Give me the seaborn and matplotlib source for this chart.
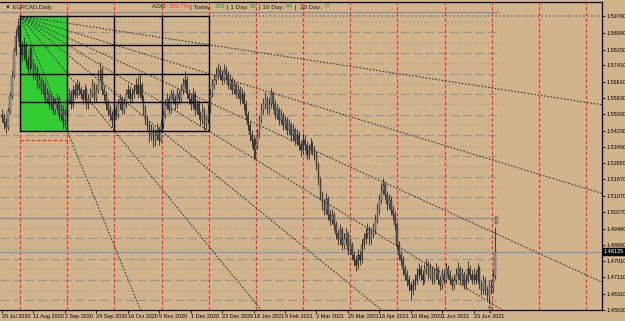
import matplotlib
matplotlib.use("Agg")
import matplotlib.pyplot as plt
import seaborn as sns
import numpy as np
import pandas as pd
from matplotlib.patches import Rectangle

symbol_title = "\u25bc EURCAD,Daily"

opens = [
1.5500,1.5490,1.5460,1.5440,1.5520,1.5590,1.5690,1.5810,1.5880,1.5930,
1.5830,1.5790,1.5840,1.5760,1.5720,1.5815,1.5745,1.5695,1.5720,1.5645,
1.5670,1.5620,1.5645,1.5575,1.5600,1.5550,1.5575,1.5525,1.5550,1.5575,
1.5500,1.5525,1.5475,1.5500,1.5570,1.5600,1.5550,1.5620,1.5595,1.5645,
1.5620,1.5600,1.5575,1.5620,1.5550,1.5575,1.5600,1.5645,1.5575,1.5620,
1.5690,1.5715,1.5620,1.5595,1.5550,1.5525,1.5500,1.5475,1.5525,1.5500,
1.5550,1.5575,1.5525,1.5550,1.5600,1.5620,1.5575,1.5600,1.5620,1.5645,
1.5600,1.5645,1.5575,1.5525,1.5475,1.5450,1.5400,1.5425,1.5380,1.5400,
1.5425,1.5380,1.5450,1.5500,1.5550,1.5575,1.5525,1.5600,1.5575,1.5550,
1.5600,1.5575,1.5620,1.5645,1.5670,1.5600,1.5575,1.5550,1.5600,1.5525,
1.5550,1.5500,1.5475,1.5525,1.5450,1.5475,1.5525,1.5600,1.5645,1.5670,
1.5695,1.5715,1.5695,1.5670,1.5715,1.5695,1.5645,1.5670,1.5620,1.5645,
1.5600,1.5620,1.5575,1.5600,1.5550,1.5500,1.5450,1.5400,1.5380,1.5330,
1.5355,1.5400,1.5475,1.5525,1.5550,1.5575,1.5525,1.5550,1.5600,1.5550,
1.5500,1.5525,1.5475,1.5500,1.5450,1.5475,1.5425,1.5450,1.5400,1.5425,
1.5380,1.5400,1.5355,1.5330,1.5380,1.5355,1.5305,1.5330,1.5355,1.5330,
1.5305,1.5255,1.5185,1.5110,1.5065,1.5040,1.5090,1.5015,1.4990,1.5015,
1.4965,1.4920,1.4895,1.4940,1.4870,1.4895,1.4920,1.4845,1.4870,1.4820,
1.4795,1.4770,1.4820,1.4795,1.4870,1.4895,1.4920,1.4940,1.4895,1.4920,
1.4940,1.4990,1.5040,1.5085,1.5135,1.5160,1.5110,1.5065,1.5085,1.5040,
1.5015,1.4965,1.4870,1.4820,1.4795,1.4750,1.4725,1.4700,1.4675,1.4650,
1.4675,1.4700,1.4725,1.4750,1.4725,1.4700,1.4750,1.4770,1.4725,1.4750,
1.4700,1.4725,1.4750,1.4700,1.4675,1.4725,1.4700,1.4750,1.4725,1.4700,
1.4675,1.4700,1.4725,1.4750,1.4700,1.4725,1.4675,1.4700,1.4750,1.4725,
1.4700,1.4725,1.4700,1.4750,1.4675,1.4650,1.4700,1.4650,1.4625,1.4675,
1.4660,1.4720]

closes = [
1.5490,1.5460,1.5440,1.5520,1.5590,1.5690,1.5810,1.5880,1.5930,1.5830,
1.5790,1.5840,1.5760,1.5720,1.5815,1.5745,1.5695,1.5720,1.5645,1.5670,
1.5620,1.5645,1.5575,1.5600,1.5550,1.5575,1.5525,1.5550,1.5575,1.5500,
1.5525,1.5475,1.5500,1.5570,1.5600,1.5550,1.5620,1.5595,1.5645,1.5620,
1.5600,1.5575,1.5620,1.5550,1.5575,1.5600,1.5645,1.5575,1.5620,1.5690,
1.5715,1.5620,1.5595,1.5550,1.5525,1.5500,1.5475,1.5525,1.5500,1.5550,
1.5575,1.5525,1.5550,1.5600,1.5620,1.5575,1.5600,1.5620,1.5645,1.5600,
1.5645,1.5575,1.5525,1.5475,1.5450,1.5400,1.5425,1.5380,1.5400,1.5425,
1.5380,1.5450,1.5500,1.5550,1.5575,1.5525,1.5600,1.5575,1.5550,1.5600,
1.5575,1.5620,1.5645,1.5670,1.5600,1.5575,1.5550,1.5600,1.5525,1.5550,
1.5500,1.5475,1.5525,1.5450,1.5475,1.5525,1.5600,1.5645,1.5670,1.5695,
1.5715,1.5695,1.5670,1.5715,1.5695,1.5645,1.5670,1.5620,1.5645,1.5600,
1.5620,1.5575,1.5600,1.5550,1.5500,1.5450,1.5400,1.5380,1.5330,1.5355,
1.5400,1.5475,1.5525,1.5550,1.5575,1.5525,1.5550,1.5600,1.5550,1.5500,
1.5525,1.5475,1.5500,1.5450,1.5475,1.5425,1.5450,1.5400,1.5425,1.5380,
1.5400,1.5355,1.5330,1.5380,1.5355,1.5305,1.5330,1.5355,1.5330,1.5305,
1.5255,1.5185,1.5110,1.5065,1.5040,1.5090,1.5015,1.4990,1.5015,1.4965,
1.4920,1.4895,1.4940,1.4870,1.4895,1.4920,1.4845,1.4870,1.4820,1.4795,
1.4770,1.4820,1.4795,1.4870,1.4895,1.4920,1.4940,1.4895,1.4920,1.4940,
1.4990,1.5040,1.5085,1.5135,1.5160,1.5110,1.5065,1.5085,1.5040,1.5015,
1.4965,1.4870,1.4820,1.4795,1.4750,1.4725,1.4700,1.4675,1.4650,1.4675,
1.4700,1.4725,1.4750,1.4725,1.4700,1.4750,1.4770,1.4725,1.4750,1.4700,
1.4725,1.4750,1.4700,1.4675,1.4725,1.4700,1.4750,1.4725,1.4700,1.4675,
1.4700,1.4725,1.4750,1.4700,1.4725,1.4675,1.4700,1.4750,1.4725,1.4700,
1.4725,1.4700,1.4750,1.4675,1.4650,1.4700,1.4650,1.4625,1.4675,1.4660,
1.4720,1.4836]

highs = [
1.5530,1.5510,1.5485,1.5540,1.5610,1.5715,1.5830,1.5915,1.5970,1.5955,
1.5860,1.5875,1.5855,1.5785,1.5840,1.5830,1.5770,1.5750,1.5735,1.5700,
1.5690,1.5675,1.5660,1.5630,1.5620,1.5600,1.5590,1.5580,1.5605,1.5590,
1.5550,1.5545,1.5530,1.5590,1.5630,1.5620,1.5645,1.5650,1.5675,1.5665,
1.5640,1.5625,1.5650,1.5635,1.5600,1.5630,1.5675,1.5660,1.5650,1.5715,
1.5755,1.5730,1.5645,1.5615,1.5575,1.5545,1.5520,1.5550,1.5545,1.5575,
1.5600,1.5590,1.5580,1.5625,1.5650,1.5640,1.5630,1.5645,1.5680,1.5690,
1.5705,1.5660,1.5595,1.5545,1.5500,1.5470,1.5455,1.5445,1.5430,1.5460,
1.5440,1.5475,1.5525,1.5575,1.5605,1.5590,1.5625,1.5620,1.5595,1.5630,
1.5620,1.5650,1.5680,1.5710,1.5690,1.5625,1.5600,1.5630,1.5615,1.5575,
1.5570,1.5520,1.5550,1.5540,1.5500,1.5550,1.5625,1.5675,1.5700,1.5730,
1.5750,1.5740,1.5715,1.5745,1.5735,1.5710,1.5700,1.5685,1.5675,1.5660,
1.5650,1.5640,1.5630,1.5615,1.5570,1.5520,1.5470,1.5425,1.5400,1.5385,
1.5430,1.5500,1.5555,1.5580,1.5610,1.5590,1.5580,1.5630,1.5615,1.5570,
1.5550,1.5540,1.5530,1.5515,1.5500,1.5490,1.5480,1.5465,1.5455,1.5440,
1.5430,1.5420,1.5375,1.5410,1.5400,1.5375,1.5360,1.5385,1.5375,1.5350,
1.5325,1.5270,1.5200,1.5130,1.5090,1.5120,1.5105,1.5040,1.5045,1.5030,
1.4985,1.4940,1.4970,1.4955,1.4925,1.4950,1.4935,1.4900,1.4885,1.4840,
1.4815,1.4850,1.4840,1.4895,1.4925,1.4950,1.4975,1.4960,1.4950,1.4975,
1.5020,1.5070,1.5115,1.5170,1.5195,1.5180,1.5130,1.5115,1.5105,1.5060,
1.5035,1.4980,1.4890,1.4840,1.4815,1.4770,1.4745,1.4720,1.4695,1.4705,
1.4730,1.4755,1.4780,1.4770,1.4745,1.4775,1.4800,1.4790,1.4780,1.4765,
1.4755,1.4780,1.4765,1.4720,1.4750,1.4745,1.4780,1.4770,1.4745,1.4720,
1.4730,1.4755,1.4785,1.4765,1.4755,1.4740,1.4730,1.4790,1.4770,1.4745,
1.4755,1.4745,1.4780,1.4765,1.4695,1.4725,1.4715,1.4670,1.4700,1.4700,
1.4745,1.4955]

lows = [
1.5465,1.5430,1.5410,1.5425,1.5505,1.5575,1.5680,1.5790,1.5860,1.5810,
1.5760,1.5770,1.5740,1.5695,1.5705,1.5725,1.5670,1.5675,1.5625,1.5630,
1.5600,1.5600,1.5555,1.5555,1.5530,1.5530,1.5500,1.5505,1.5530,1.5475,
1.5470,1.5430,1.5455,1.5485,1.5550,1.5530,1.5535,1.5575,1.5580,1.5595,
1.5575,1.5550,1.5560,1.5530,1.5530,1.5555,1.5585,1.5555,1.5560,1.5605,
1.5670,1.5600,1.5570,1.5525,1.5500,1.5470,1.5440,1.5455,1.5475,1.5485,
1.5530,1.5505,1.5505,1.5535,1.5580,1.5555,1.5555,1.5580,1.5600,1.5580,
1.5585,1.5555,1.5500,1.5450,1.5425,1.5370,1.5380,1.5345,1.5350,1.5380,
1.5355,1.5370,1.5435,1.5485,1.5530,1.5505,1.5510,1.5555,1.5525,1.5535,
1.5550,1.5560,1.5600,1.5625,1.5580,1.5550,1.5525,1.5535,1.5500,1.5505,
1.5480,1.5450,1.5455,1.5425,1.5430,1.5460,1.5510,1.5585,1.5625,1.5650,
1.5675,1.5670,1.5645,1.5655,1.5670,1.5625,1.5625,1.5600,1.5600,1.5580,
1.5580,1.5550,1.5555,1.5525,1.5475,1.5425,1.5375,1.5345,1.5280,1.5285,
1.5335,1.5385,1.5460,1.5505,1.5530,1.5505,1.5505,1.5535,1.5530,1.5480,
1.5480,1.5450,1.5455,1.5425,1.5430,1.5400,1.5405,1.5375,1.5380,1.5355,
1.5355,1.5330,1.5300,1.5310,1.5330,1.5280,1.5285,1.5310,1.5305,1.5280,
1.5230,1.5160,1.5085,1.5040,1.5015,1.5020,1.4990,1.4965,1.4970,1.4940,
1.4895,1.4870,1.4875,1.4845,1.4850,1.4875,1.4820,1.4825,1.4795,1.4765,
1.4740,1.4750,1.4770,1.4780,1.4850,1.4875,1.4900,1.4870,1.4875,1.4900,
1.4920,1.4975,1.5020,1.5070,1.5115,1.5090,1.5040,1.5045,1.5015,1.4990,
1.4940,1.4845,1.4795,1.4770,1.4725,1.4700,1.4670,1.4645,1.4600,1.4625,
1.4650,1.4680,1.4705,1.4700,1.4675,1.4685,1.4730,1.4705,1.4705,1.4680,
1.4680,1.4705,1.4680,1.4650,1.4655,1.4680,1.4685,1.4705,1.4680,1.4650,
1.4655,1.4680,1.4705,1.4680,1.4680,1.4655,1.4655,1.4685,1.4705,1.4680,
1.4680,1.4680,1.4685,1.4655,1.4625,1.4630,1.4625,1.4600,1.4580,1.4630,
1.4640,1.4705]

date_labels = ["20 Jul 2020", "11 Aug 2020", "2 Sep 2020", "24 Sep 2020",
               "16 Oct 2020", "9 Nov 2020", "1 Dec 2020", "23 Dec 2020",
               "18 Jan 2021", "9 Feb 2021", "3 Mar 2021", "25 Mar 2021",
               "16 Apr 2021", "10 May 2021", "1 Jun 2021", "23 Jun 2021"]
date_label_bars = [0, 16, 32, 48, 64, 80, 96, 112, 128, 144, 160, 176, 192, 208, 224, 240]

price_labels = [1.59790, 1.58990, 1.58150, 1.57410, 1.56610, 1.55830, 1.55030,
                1.54230, 1.53450, 1.52650, 1.51870, 1.51070, 1.50270, 1.49480,
                1.48680, 1.47910, 1.47110, 1.46310, 1.45530]
bid_text = "1.48125"
bid_level = 1.4836

separator_bars = [9.2, 33.2, 57.2, 81.2, 105.2, 129.2, 153.2, 177.2, 201.2, 225.2, 249.2, 273.2, 297.2]

box_left, box_cell = 9.2, 24.0
box_top, box_bottom = 1.5979, 1.5421

solid_levels = [1.60, 1.50]
dashed_levels = [1.59, 1.58, 1.57, 1.56, 1.55, 1.54, 1.53, 1.52, 1.51, 1.49, 1.48, 1.47, 1.46]
dotted_levels = [1.595, 1.585, 1.575, 1.565, 1.555, 1.545, 1.535, 1.525, 1.515, 1.505,
                 1.495, 1.485, 1.475, 1.465, 1.455]

adr_parts = [("ADR: ", "#202020"), ("259.7%", "#ff3c3c"), ("| Today: ", "#202020"),
             ("209", "#2e9a2e"), (" | 1 Day: ", "#202020"), ("89", "#2e9a2e"),
             (" | 10 Day: ", "#202020"), ("84", "#2e9a2e"), (" |  20 Day: ", "#202020"),
             ("77", "#2e9a2e")]

BG = "#D2B48C"
sns.set_theme(style="white", rc={"axes.facecolor": BG, "figure.facecolor": BG})
plt.rcParams["font.family"] = ["Liberation Sans", "DejaVu Sans"]

W, H = 625, 321
fig = plt.figure(figsize=(W / 100, H / 100), dpi=100)
ax = fig.add_axes([0, 11 / H, 602 / W, 308 / H])
px_per_bar = 1.965
xmin, xmax = -2 / px_per_bar, 600 / px_per_bar
ymin, ymax = 1.4553, 1.6047
ax.set_xlim(xmin, xmax)
ax.set_ylim(ymin, ymax)

df = pd.DataFrame({"bar": np.arange(len(closes)), "open": opens, "high": highs,
                   "low": lows, "close": closes})

# horizontal round-number levels
last_x = len(closes) + 0.8
ax.hlines(solid_levels, xmin, last_x, colors="#8c8c8c", lw=1.0, zorder=1)
ax.hlines(dashed_levels, xmin, last_x, colors="#969696", lw=0.9, linestyles=(0, (7, 3)), zorder=1)
ax.hlines(dotted_levels, xmin, last_x, colors="#9a9a9a", lw=0.9, linestyles=(0, (1, 2)), zorder=1)

# green cell + Gann grid
box_h = box_top - box_bottom
ax.add_patch(Rectangle((box_left, box_bottom), box_cell, box_h, facecolor="#33cc33",
                       edgecolor="none", zorder=2))
for k in range(5):
    ax.plot([box_left + k * box_cell] * 2, [box_bottom, box_top], color="black", lw=1.0, zorder=8)
    yk = box_bottom + k * box_h / 4
    ax.plot([box_left, box_left + 4 * box_cell], [yk, yk], color="black", lw=1.0, zorder=8)
ax.plot([box_left, box_left + box_cell], [1.5377, 1.5377], color="#ff2020", lw=0.8,
        linestyle=(0, (3, 2)), zorder=3)
ax.hlines([box_top], box_left + 4 * box_cell, xmax, colors="#707070", lw=1.1,
          linestyles=(0, (1, 1.5)), zorder=3)

# red separators
ax.vlines(separator_bars, ymin, ymax, colors="#ff2020", lw=0.8, linestyles=(0, (3, 2)), zorder=3)

# bid line
ax.axhline(bid_level, color="#8c96a6", lw=1.0, zorder=3)

# fan lines from box corner
targets = [(box_left + 4 * box_cell, box_top - k * box_h / 4) for k in range(1, 5)]
targets += [(box_left + j * box_cell, box_bottom) for j in (1, 2, 3)]
for tx, ty in targets:
    slope = (ty - box_top) / (tx - box_left)
    x_end = 320
    fan = pd.DataFrame({"x": [box_left, x_end], "y": [box_top, box_top + slope * (x_end - box_left)]})
    sns.lineplot(data=fan, x="x", y="y", ax=ax, color="#383838", lw=0.8,
                 linestyle=(0, (1.5, 1.5)), zorder=7, estimator=None, sort=False)

# candles
up = df["close"] >= df["open"]
ax.vlines(df["bar"], df["low"], df["high"], colors="#1a1a1a", lw=0.55, zorder=5)
body_lo = np.minimum(df["open"], df["close"])
body_h = np.maximum(np.abs(df["close"] - df["open"]), 0.0003)
ax.bar(df["bar"], body_h, bottom=body_lo, width=0.75,
       color=np.where(up, "#9a9a9a", "#5a5a5a"), edgecolor="#1a1a1a", lw=0.25, zorder=6)

# arrows at last swing
ax.text(df["bar"].iloc[-1], df["high"].iloc[-1] + 0.0003, "\u21e9", ha="center", va="bottom",
        fontsize=7, color="#303030", zorder=9, family="DejaVu Sans")
ax.text(248, df["low"].iloc[248] - 0.0002, "\u21e7", ha="center", va="top",
        fontsize=7, color="#303030", zorder=9, family="DejaVu Sans")

ax.set_xlabel("")
ax.set_ylabel("")

# axes styling
ax.set_xticks(date_label_bars)
ax.set_xticklabels(date_labels, fontsize=4.0, ha="left")
ax.yaxis.tick_right()
ax.set_yticks(price_labels)
ax.set_yticklabels([f"{p:.5f}" for p in price_labels], fontsize=4.0)
ax.tick_params(axis="x", which="both", bottom=True, length=2, width=0.6, pad=1, colors="black")
ax.tick_params(axis="y", which="both", right=True, left=False, length=2, width=0.6, pad=1,
               colors="black")
for s in ["top", "right", "bottom"]:
    ax.spines[s].set_visible(True)
    ax.spines[s].set_color("black")
    ax.spines[s].set_linewidth(0.9)
ax.spines["left"].set_visible(False)
ax.grid(False)

# bid label
ax.text(1.003, bid_level, bid_text, transform=ax.get_yaxis_transform(),
        fontsize=4.0, color="white", va="center", ha="left", zorder=10,
        bbox=dict(boxstyle="square,pad=0.2", facecolor="black", edgecolor="black"))

# header texts
fig.text(5 / W, 1 - 7 / H, symbol_title, fontsize=4.2, color="#202020", va="center", ha="left")
t = fig.text(152 / W, 1 - 7 / H, adr_parts[0][0], fontsize=4.6, color=adr_parts[0][1],
             va="center", ha="left")
for txt, col in adr_parts[1:]:
    t = ax.annotate(txt, xy=(1, 0), xycoords=t, va="bottom", ha="left",
                    fontsize=4.6, color=col, annotation_clip=False)

fig.savefig("out.png", dpi=100, facecolor=BG)
